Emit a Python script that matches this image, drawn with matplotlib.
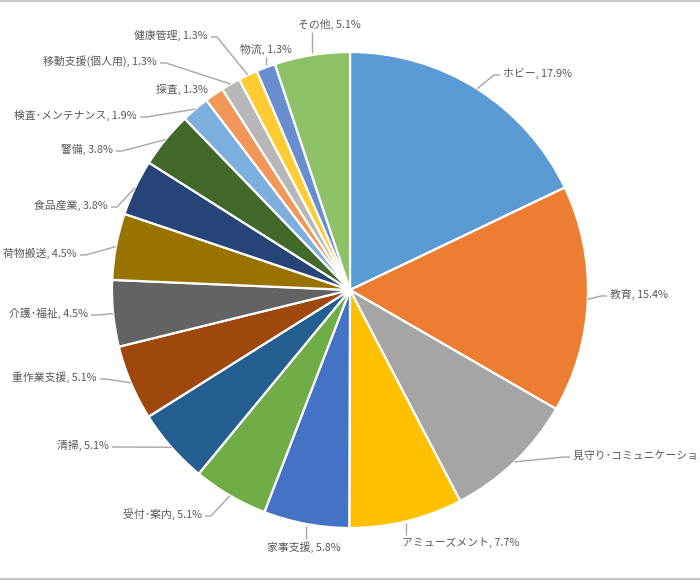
import numpy as np
import matplotlib
matplotlib.use("Agg")
import matplotlib.pyplot as plt

plt.rcParams['font.family'] = ['Noto Sans CJK JP', 'DejaVu Sans']

# ---- data ----
categories = ["ホビー", "教育", "見守り･コミュニケーション", "アミューズメント", "家事支援",
              "受付･案内", "清掃", "重作業支援", "介護･福祉", "荷物搬送", "食品産業", "警備",
              "検査･メンテナンス", "探査", "移動支援(個人用)", "健康管理", "物流", "その他"]
percents = [17.9, 15.4, 9.0, 7.7, 5.8, 5.1, 5.1, 5.1, 4.5, 4.5, 3.8, 3.8, 1.9, 1.3, 1.3, 1.3, 1.3, 5.1]
colors = ["#5B9BD5", "#ED7D31", "#A5A5A5", "#FFC000", "#4472C4", "#70AD47", "#255E91",
          "#9E480E", "#636363", "#997300", "#264478", "#43682B", "#7CAFDD", "#F1975A",
          "#B7B7B7", "#FFCD33", "#698ED0", "#8CC168"]

# ---- layout (pixel coordinates of label anchors; side of leader) ----
W, H = 700, 580
CX, CY, R = 350, 290, 238
label_layout = [
    (503, 73, 'r'), (610, 294, 'r'), (573, 455, 'r'), (402, 543, 'b'), (267, 547, 'b'),
    (202, 514, 'l'), (109, 445, 'l'), (97, 377, 'l'), (88, 313, 'l'), (77, 253, 'l'),
    (108, 205, 'l'), (113, 149, 'l'), (137, 115, 'l'), (208, 89, 'n'), (157, 61, 'l'),
    (208, 35, 'l'), (240, 49, 't'), (298, 24, 't'),
]

fig = plt.figure(figsize=(W / 100, H / 100), dpi=100)
ax = fig.add_axes([0, 0, 1, 1])

def yd(yp):
    return H - yp

ax.pie(percents, colors=colors, startangle=90, counterclock=False,
       center=(CX, yd(CY)), radius=R, frame=True,
       wedgeprops=dict(edgecolor='white', linewidth=1.6))
ax.set_xlim(0, W)
ax.set_ylim(0, H)
ax.set_aspect('equal')
ax.axis('off')

total = sum(percents)
cum = 0.0
text_color = "#595959"
line_color = "#A6A6A6"
for name, v, (tx, ty, side) in zip(categories, percents, label_layout):
    mid = (cum + v / 2) / total * 2 * np.pi
    cum += v
    ex = CX + R * np.sin(mid)
    ey = CY - R * np.cos(mid)
    label = f"{name}, {v:.1f}%"
    ha = 'left' if side in ('r', 'b', 't') else 'right'
    ax.text(tx, yd(ty), label, ha=ha, va='center', fontsize=7.8, color=text_color)
    pts = None
    if side == 'r':
        pts = [(ex, ey), (tx - 9, ty + 2), (tx - 3, ty + 2)]
    elif side == 'l':
        pts = [(ex, ey), (tx + 9, ty + 2), (tx + 3, ty + 2)]
    elif side == 'b':
        pts = [(ex, ey + 2), (ex, ty - 8)]
    elif side == 't':
        pts = [(ex, ey - 2), (ex, ty + 8)]
    if pts:
        xs = [p[0] for p in pts]
        ys = [yd(p[1]) for p in pts]
        ax.plot(xs, ys, color=line_color, lw=1.0, solid_capstyle='butt')

# chart frame lines (top and bottom)
ax.plot([0, W], [yd(0.8), yd(0.8)], color="#C8C8C8", lw=1.6, clip_on=False)
ax.plot([0, W], [yd(578.5), yd(578.5)], color="#C8C8C8", lw=1.6, clip_on=False)

fig.savefig("out.png", dpi=100, facecolor='white')
